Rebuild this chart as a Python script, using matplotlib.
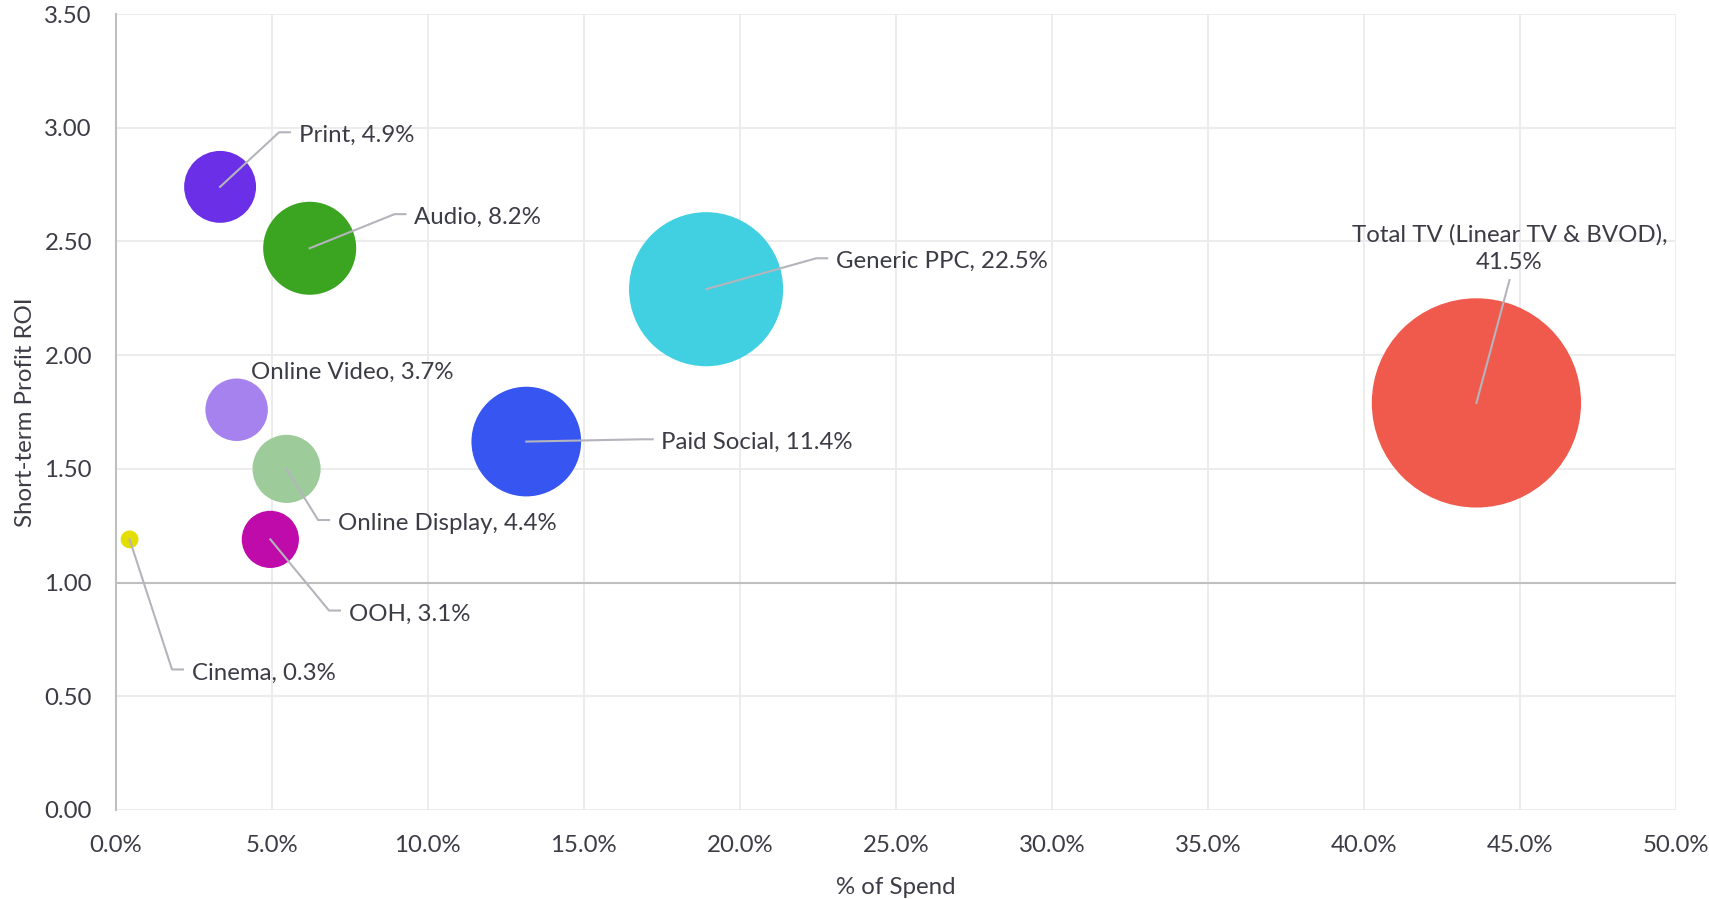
import numpy as np
import matplotlib
matplotlib.use("Agg")
from matplotlib import pyplot as plt
from matplotlib.ticker import FuncFormatter, MultipleLocator

plt.rcParams['font.family'] = ['Lato', 'DejaVu Sans']

# channel data: x = % of spend, y = short-term profit ROI, share = bubble label value
channels = ["Print", "Audio", "Online Video", "Online Display", "OOH",
            "Cinema", "Paid Social", "Generic PPC", "Total TV (Linear TV & BVOD)"]
spend_pct = [3.35, 6.22, 3.88, 5.48, 4.96, 0.45, 13.16, 18.92, 43.6]
roi = [2.74, 2.47, 1.76, 1.50, 1.19, 1.19, 1.62, 2.29, 1.79]
share = [4.9, 8.2, 3.7, 4.4, 3.1, 0.3, 11.4, 22.5, 41.5]

colors = ["#6A2FE6", "#3BA521", "#A682EE", "#9DCB9A", "#BE0BAA",
          "#E3DD00", "#3755F0", "#41D0E1", "#F05A4C"]

# label anchor (left edge, middle) and whether a bent leader line is drawn
label_pos = [(5.87, 2.98), (9.57, 2.62), (4.33, 1.94), (7.12, 1.275), (7.47, 0.877),
             (2.44, 0.618), (17.49, 1.63), (23.08, 2.426), (44.66, 2.48)]
leader = ["bent", "bent", None, "bent", "bent", "bent", "bent", "bent", "straight"]

text_col = "#3C3C46"
line_col = "#B4B4BC"
fs = 17.3

fig = plt.figure(figsize=(17.09, 8.99), dpi=100)
ax = fig.add_axes([0.0676, 0.099, 0.9132, 0.8854])

ax.set_xlim(0, 50)
ax.set_ylim(0, 3.5)
ax.xaxis.set_major_locator(MultipleLocator(5))
ax.yaxis.set_major_locator(MultipleLocator(0.5))
ax.xaxis.set_major_formatter(FuncFormatter(lambda v, p: f"{v:.1f}%"))
ax.yaxis.set_major_formatter(FuncFormatter(lambda v, p: f"{v:.2f}"))

ax.grid(True, color="#EBEBEB", linewidth=1.3)
ax.set_axisbelow(True)
for s in ["top", "right", "bottom"]:
    ax.spines[s].set_visible(False)
ax.spines["left"].set_color("#BFBFBF")
ax.spines["left"].set_linewidth(1.5)
ax.axhline(1.0, color="#BFBFBF", linewidth=1.5, zorder=1)

ax.tick_params(length=0, labelsize=fs, colors=text_col)
ax.tick_params(axis="x", pad=18)
ax.tick_params(axis="y", pad=17)

sizes = [547 * s for s in share]
ax.scatter(spend_pct, roi, s=sizes, c=colors, linewidths=0, zorder=3)

for i in range(len(channels)):
    tx, ty = label_pos[i]
    cx, cy = spend_pct[i], roi[i]
    if leader[i] == "bent":
        ax.plot([cx, tx - 0.63, tx - 0.28], [cy, ty, ty], color=line_col,
                linewidth=1.5, zorder=4)
    elif leader[i] == "straight":
        ax.plot([cx, tx], [cy, ty - 0.15], color=line_col, linewidth=1.5, zorder=4)
    if i == len(channels) - 1:
        ax.text(tx, ty - 0.01, f"{channels[i]},\n{share[i]}%", ha="center", va="center",
                fontsize=fs, color=text_col, linespacing=1.4, zorder=5)
    else:
        ax.text(tx, ty - 0.015, f"{channels[i]}, {share[i]}%", ha="left", va="center",
                fontsize=fs, color=text_col, zorder=5)

ax.set_xlabel("% of Spend", fontsize=fs, color=text_col, labelpad=15)
ax.set_ylabel("Short-term Profit ROI", fontsize=fs, color=text_col, labelpad=6)

fig.savefig("out.png", dpi=100)
